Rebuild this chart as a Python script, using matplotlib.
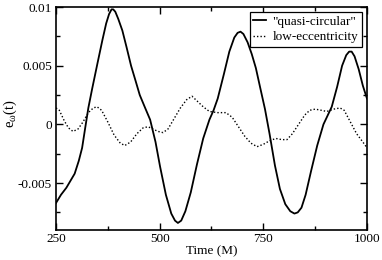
import matplotlib
matplotlib.use("Agg")
import matplotlib.pyplot as plt
from matplotlib.ticker import FixedLocator, FixedFormatter

# quasi-circular (solid)
t_qc = [250, 262, 275, 285, 295, 305, 313, 320, 328, 337, 350, 362, 371, 378, 384, 388,
        393, 400, 410, 420, 431, 442, 452, 465, 477, 490, 501, 515, 528, 537, 544, 552,
        562, 575, 590, 605, 620, 630, 640, 655, 668, 680, 688, 695, 702, 712, 722, 732, 742,
        754, 765, 778, 790, 803, 815, 825, 833, 842, 852, 865, 880, 895, 915, 928,
        940, 950, 957, 963, 970, 980, 990, 1000]
e_qc = [-0.0067, -0.0060, -0.0054, -0.0048, -0.0042, -0.0031, -0.0020, -0.0004,
        0.0014, 0.0030, 0.0052, 0.0072, 0.0086, 0.0094, 0.0098, 0.0098,
        0.0096, 0.0090, 0.0080, 0.0066, 0.0050, 0.0037, 0.0025, 0.0014, 0.0004, -0.0015,
        -0.0036, -0.0060, -0.0076, -0.0082, -0.0084, -0.0082,
        -0.0074, -0.0058, -0.0034, -0.0012, 0.0004, 0.0012, 0.0022, 0.0043, 0.0062, 0.0074,
        0.0078, 0.0079, 0.0077, 0.0070, 0.0060, 0.0048, 0.0032,
        0.0013, -0.0008, -0.0035, -0.0055, -0.0068, -0.0074, -0.0076, -0.0075, -0.0071,
        -0.0060, -0.0040, -0.0018, 0.0000, 0.0015, 0.0032,
        0.0050, 0.0059, 0.0062, 0.0062, 0.0058, 0.0047, 0.0033, 0.0022]

# low-eccentricity (dotted)
t_le = [250, 258, 270, 280, 291, 303, 315, 328, 340, 349, 360, 375, 390, 405, 416,
        430, 445, 460, 472, 484, 496, 508, 520, 535, 550, 565, 578, 590, 605, 620,
        640, 660, 675, 690, 705, 720, 735, 750, 765, 780, 795, 807, 820, 835, 850,
        862, 875, 890, 903, 920, 935, 945, 960, 975, 990, 1000]
e_le = [0.0014, 0.0012, 0.0003, -0.0003, -0.0006, -0.0004, 0.0002, 0.0010, 0.0014,
        0.0015, 0.0012, 0.0002, -0.0009, -0.0016, -0.0018,
        -0.0015, -0.0008, -0.0003, -0.0002, -0.0004, -0.0006, -0.0007, -0.0004, 0.0005,
        0.0014, 0.0021, 0.0024, 0.0020, 0.0015, 0.0011,
        0.0010, 0.0010, 0.0006, -0.0002, -0.0010, -0.0016, -0.0019, -0.0017, -0.0014,
        -0.0012, -0.0013, -0.0013, -0.0008, 0.0000, 0.0008,
        0.0012, 0.0013, 0.0012, 0.0011, 0.0013, 0.0014, 0.0012, 0.0002, -0.0008,
        -0.0015, -0.0020]

x_major = [250, 500, 750, 1000]
x_labels = ["250", "500", "750", "1000"]
x_minor = [375, 625, 875]
y_major = [-0.005, 0, 0.005, 0.01]
y_labels = ["-0.005", "0", "0.005", "0.01"]
y_minor = [-0.0075, -0.0025, 0.0025, 0.0075]

plt.rcParams['font.family'] = ['Liberation Serif', 'DejaVu Serif']
plt.rcParams['mathtext.fontset'] = 'custom'
plt.rcParams['mathtext.rm'] = 'Liberation Serif'
plt.rcParams['mathtext.it'] = 'Liberation Serif'

FS = 9.5

fig = plt.figure(figsize=(3.82, 2.60), dpi=100)
ax = fig.add_axes([0.1466, 0.1154, 0.8141, 0.8576])

ax.plot(t_qc, e_qc, color='black', lw=1.3, ls='-', label='"quasi-circular"')
ax.plot(t_le, e_le, color='black', lw=1.0, ls=(0, (1, 1.5)), label='low-eccentricity')

ax.set_xlim(250, 1000)
ax.set_ylim(-0.009, 0.01)
ax.xaxis.set_major_locator(FixedLocator(x_major))
ax.xaxis.set_major_formatter(FixedFormatter(x_labels))
ax.xaxis.set_minor_locator(FixedLocator(x_minor))
ax.yaxis.set_major_locator(FixedLocator(y_major))
ax.yaxis.set_major_formatter(FixedFormatter(y_labels))
ax.yaxis.set_minor_locator(FixedLocator(y_minor))
ax.tick_params(which='both', direction='in', top=True, right=True, labelsize=FS, width=1)
ax.tick_params(which='major', length=5, pad=3)
ax.tick_params(axis='x', which='major', pad=2.5)
ax.tick_params(which='minor', length=3)
for s in ax.spines.values():
    s.set_linewidth(1.2)

ax.set_xlabel('Time (M)', fontsize=FS, labelpad=0)
ax.set_ylabel(r'$\mathrm{e}_{\omega}\mathrm{(t)}$', fontsize=10.5)
ax.yaxis.set_label_coords(-0.118, 0.52)

leg = ax.legend(loc='upper right', fontsize=FS, frameon=True, fancybox=False,
                edgecolor='black', framealpha=1, handlelength=1.0, handletextpad=0.5,
                borderpad=0.25, labelspacing=0.25, borderaxespad=0.4)
leg.get_frame().set_linewidth(0.9)

fig.savefig('out.png', dpi=100)
